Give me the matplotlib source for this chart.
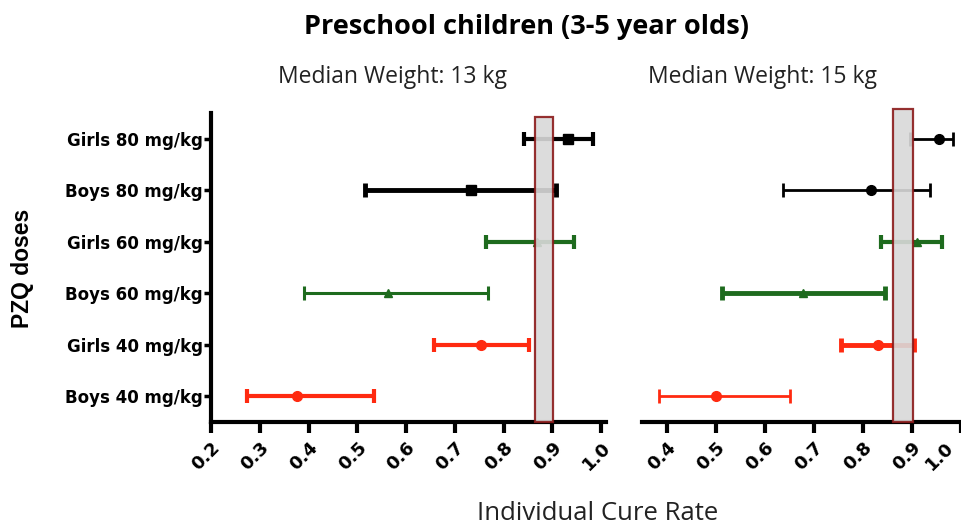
import numpy as np
import matplotlib.pyplot as plt
import matplotlib.transforms as mtransforms
from matplotlib.patches import Rectangle

# --- data ---
groups = ["Boys 40 mg/kg", "Girls 40 mg/kg", "Boys 60 mg/kg",
          "Girls 60 mg/kg", "Boys 80 mg/kg", "Girls 80 mg/kg"]

# median weight 13 kg
mid_13 = [0.377, 0.754, 0.563, 0.868, 0.733, 0.932]
low_13 = [0.274, 0.657, 0.390, 0.764, 0.515, 0.842]
high_13 = [0.534, 0.853, 0.769, 0.945, 0.908, 0.983]
band_13 = [0.864, 0.901]

# median weight 15 kg
mid_15 = [0.500, 0.831, 0.678, 0.911, 0.817, 0.957]
low_15 = [0.385, 0.756, 0.513, 0.837, 0.637, 0.897]
high_15 = [0.651, 0.904, 0.846, 0.962, 0.938, 0.985]
band_15 = [0.862, 0.902]

ticks_13 = [0.2, 0.3, 0.4, 0.5, 0.6, 0.7, 0.8, 0.9, 1.0]
ticks_15 = [0.4, 0.5, 0.6, 0.7, 0.8, 0.9, 1.0]

# --- styles ---
red, green, black = "#ff2a10", "#1e6b1e", "#000000"
colors = [red, red, green, green, black, black]
markers_13 = ["o", "o", "^", "^", "s", "s"]
markers_15 = ["o", "o", "^", "^", "o", "o"]
lw_13 = [3, 3, 2.2, 3, 3.5, 3]
lw_15 = [2, 3.5, 3.5, 3, 2, 2]

W, H = 961, 524
fig = plt.figure(figsize=(W / 100, H / 100), dpi=100)
ax1 = fig.add_axes([211 / W, 1 - 422 / H, 395 / W, 309 / H])
ax2 = fig.add_axes([642 / W, 1 - 422 / H, 321 / W, 309 / H])

y = np.arange(len(groups))


def draw(ax, mid, low, high, markers, lws, band, band_top, ticks):
    mid, low, high = map(np.array, (mid, low, high))
    for i in range(len(groups)):
        ax.errorbar(mid[i], y[i], xerr=[[mid[i] - low[i]], [high[i] - mid[i]]],
                    fmt=markers[i], color=colors[i], ms=7 if markers[i] != "^" else 6,
                    elinewidth=lws[i], capsize=5, capthick=lws[i], zorder=3)
    ax.add_patch(Rectangle((band[0], -0.5), band[1] - band[0], band_top + 0.5,
                           facecolor="#d9d9d9", edgecolor="#8b1a1a", lw=1.6,
                           clip_on=False, zorder=4, alpha=0.9))
    ax.set_ylim(-0.5, 5.5)
    for s in ["top", "right"]:
        ax.spines[s].set_visible(False)
    ax.spines["bottom"].set_linewidth(3)
    ax.spines["left"].set_linewidth(3)
    ax.set_xticks(ticks)
    ax.set_xticklabels([f"{t:.1f}" for t in ticks], rotation=45, ha="right",
                       va="top", rotation_mode="anchor", fontsize=13,
                       fontweight="bold", family="DejaVu Sans")
    ax.tick_params(axis="x", direction="out", length=8, width=3, pad=4)


ax1.set_xlim(0.2, 1.01)
draw(ax1, mid_13, low_13, high_13, markers_13, lw_13, band_13, 5.42, ticks_13)
ax1.set_yticks(y)
ax1.set_yticklabels(groups, fontsize=12, fontweight="bold", family="DejaVu Sans")
ax1.tick_params(axis="y", direction="out", length=5, width=2.5, pad=1)

ax2.set_xlim(0.35, 1.005)
draw(ax2, mid_15, low_15, high_15, markers_15, lw_15, band_15, 5.57, ticks_15)
ax2.spines["left"].set_visible(False)
ax2.set_yticks([])
# nudge the last label so it stays inside the picture
last = ax2.get_xticklabels()[-1]
last.set_transform(last.get_transform() +
                   mtransforms.ScaledTranslation(-16 / 100, 0, fig.dpi_scale_trans))

# --- text ---
fig.text(526.5 / W, 1 - 27 / H, "Preschool children (3-5 year olds)",
         ha="center", va="center", fontsize=19.5, fontweight="bold", family="Open Sans")
fig.text(393 / W, 1 - 77 / H, "Median Weight: 13 kg", ha="center", va="center",
         fontsize=16.5, family="Open Sans", color="#222222")
fig.text(762 / W, 1 - 77 / H, "Median Weight: 15 kg", ha="center", va="center",
         fontsize=16.5, family="Open Sans", color="#222222")
fig.text(598 / W, 1 - 513 / H, "Individual Cure Rate", ha="center", va="center",
         fontsize=18.5, family="Open Sans", color="#222222")
fig.text(22 / W, 1 - 268 / H, "PZQ doses", ha="center", va="center", rotation=90,
         fontsize=16.5, fontweight="bold", family="Liberation Sans")

fig.savefig("out.png", dpi=100)
